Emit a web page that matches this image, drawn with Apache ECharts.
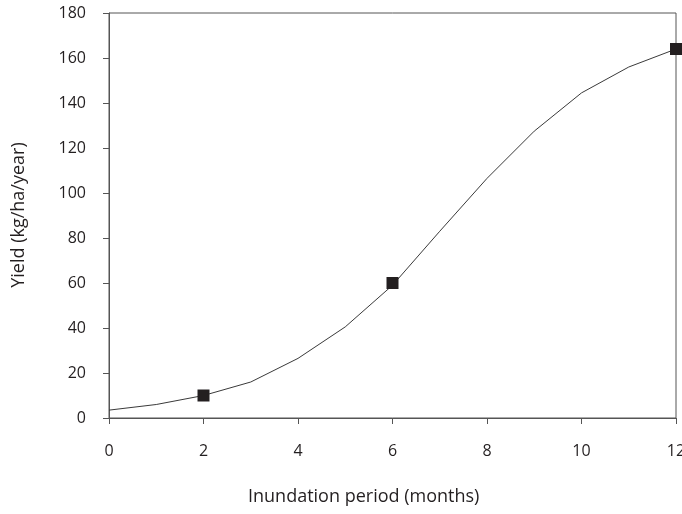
<!DOCTYPE html>
<html>
<head>
<meta charset="utf-8">
<script src="https://cdn.jsdelivr.net/npm/echarts@6/dist/echarts.min.js"></script>
<style>
  html, body { margin: 0; padding: 0; background: #fff; }
  #chart { width: 682px; height: 514px; }
</style>
</head>
<body>
<div id="chart"></div>
<script>
// Inundation period (months) and the yield curve sampled each month
const months = [0, 1, 2, 3, 4, 5, 6, 7, 8, 9, 10, 11, 12];
const yieldCurve = [3.5, 6, 10, 16, 26.5, 40.5, 59, 83, 106.5, 127.5, 144.5, 156, 164];
// Observed points shown with square markers
const obsMonths = [2, 6, 12];
const obsYield = [10, 60, 164];

const xTitle = 'Inundation period (months)';
const yTitle = 'Yield (kg/ha/year)';

const fontFamily = '"Open Sans", "Noto Sans", sans-serif';
const ink = '#231f20';
const axisGray = '#555555';

const chart = echarts.init(document.getElementById('chart'), null, { renderer: 'canvas' });

chart.setOption({
  animation: false,
  backgroundColor: '#ffffff',
  grid: {
    left: 109, right: 6, top: 13, bottom: 96,
    outerBoundsMode: 'none',
    containLabel: false,
    show: true, borderColor: axisGray, borderWidth: 1, backgroundColor: 'transparent'
  },
  xAxis: {
    type: 'value',
    min: 0, max: 12, interval: 2,
    axisLine: { show: true, lineStyle: { color: axisGray, width: 1 } },
    axisTick: { show: true, length: 6, lineStyle: { color: axisGray } },
    splitLine: { show: false },
    axisLabel: { margin: 25, color: ink, fontSize: 16, fontFamily: fontFamily }
  },
  yAxis: {
    type: 'value',
    min: 0, max: 180, interval: 20,
    axisLine: { show: true, lineStyle: { color: axisGray, width: 1 } },
    axisTick: { show: true, length: 6, lineStyle: { color: axisGray } },
    splitLine: { show: false },
    axisLabel: { margin: 23, color: ink, fontSize: 16, fontFamily: fontFamily }
  },
  graphic: [
    {
      type: 'text', x: 248, y: 497,
      style: { text: xTitle, fill: ink, font: '18px ' + fontFamily, verticalAlign: 'middle' }
    },
    {
      type: 'text', x: 10, y: 215, rotation: Math.PI / 2,
      style: { text: yTitle, fill: ink, font: '18px ' + fontFamily, align: 'center', verticalAlign: 'top' }
    }
  ],
  series: [
    {
      type: 'line',
      data: months.map((m, i) => [m, yieldCurve[i]]),
      showSymbol: false,
      lineStyle: { color: '#3a3a3a', width: 1 },
      z: 2
    },
    {
      type: 'scatter',
      data: obsMonths.map((m, i) => [m, obsYield[i]]),
      symbol: 'rect',
      symbolSize: 12,
      itemStyle: { color: ink, opacity: 1 },
      z: 3
    }
  ]
});
</script>
</body>
</html>
